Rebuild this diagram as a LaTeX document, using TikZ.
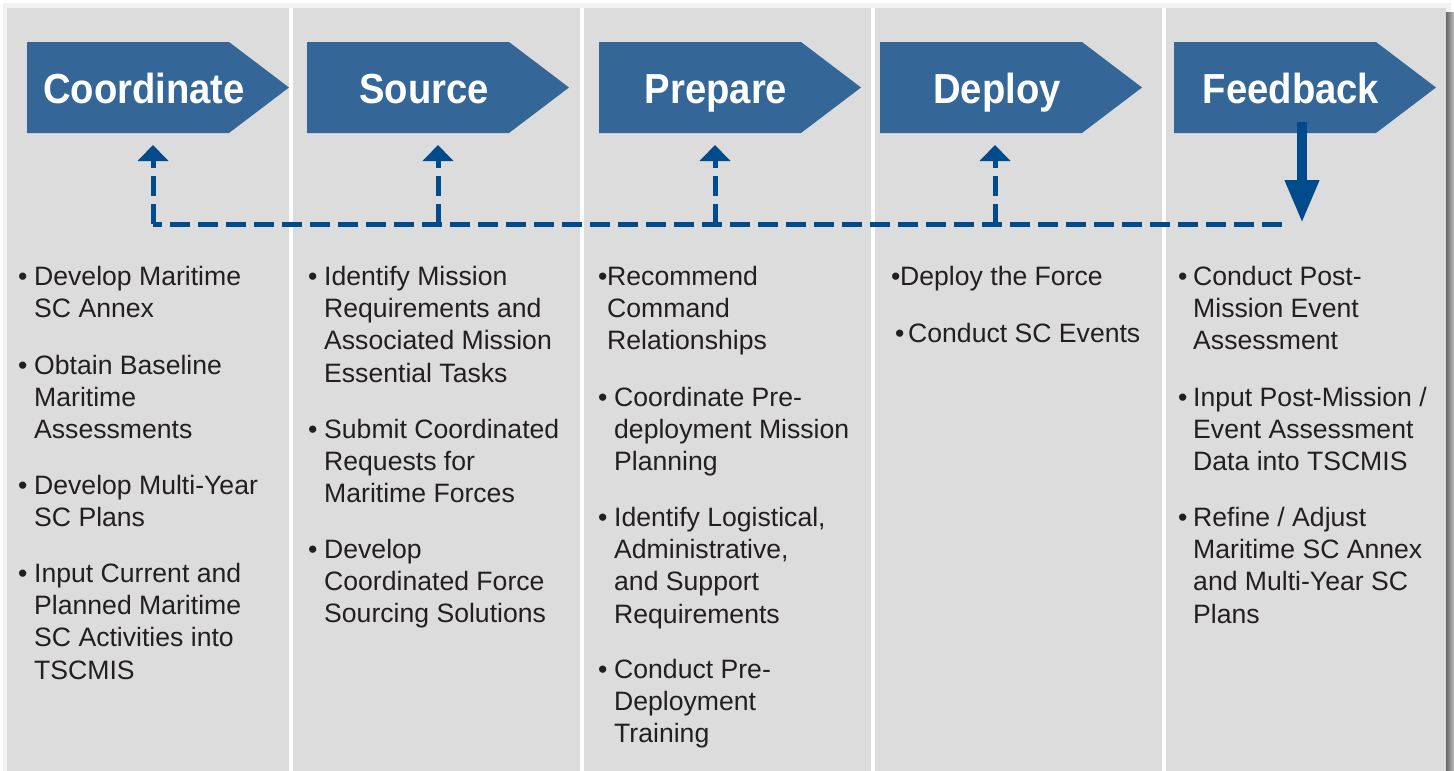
\documentclass[tikz,border=0pt]{standalone}
\usepackage{fontspec}
\setmainfont{Liberation Sans}
\newfontfamily\hdrfont{Liberation Sans}[FakeStretch=0.91]
\usetikzlibrary{arrows.meta}
\definecolor{panel}{HTML}{DCDCDC}
\definecolor{hdrblue}{HTML}{346798}
\definecolor{linkblue}{HTML}{014A8C}
\definecolor{bodytext}{HTML}{231F20}
\tikzset{
  hdrshape/.style={fill=hdrblue},
  hdrtext/.style={text=white, inner sep=0pt, anchor=base, font=\hdrfont\bfseries\fontsize{42}{44}\selectfont},
  bul/.style={text=bodytext, inner sep=0pt, anchor=base west, font=\fontsize{26.6}{32.3}\selectfont},
  body/.style={text=bodytext, inner sep=0pt, anchor=north west, align=left, font=\fontsize{26.6}{32.3}\selectfont},
  dashlink/.style={draw=linkblue, line width=5pt, dash pattern=on 20pt off 8pt, -{Triangle[width=30pt,length=16pt]}},
  dashbus/.style={draw=linkblue, line width=5pt, dash pattern=on 20pt off 8pt},
  solidlink/.style={draw=linkblue, line width=10pt, -{Triangle[width=32pt,length=43pt]}},
  sep/.style={fill=white}
}
\newcommand{\hdr}[3]{%
  \fill[hdrshape] (#2,42) -- (#2+202,42) -- (#2+262,87.5) -- (#2+202,133) -- (#2,133) -- cycle;
  \node[hdrtext] (#1) at (#2+117,103) {#3};
}
\newcommand{\bitem}[5]{%
  \node[bul] (#1b) at (#2,#4+9) {•};
  \node[body] (#1) at (#3,#4-13.6) {\strut #5};
}
\begin{document}
\begin{tikzpicture}[x=1pt,y=-1pt]
\useasboundingbox (0,0) rectangle (1454,771);
\fill[white] (0,0) rectangle (1454,771);
% shadows
\fill[black!5] (3,3) rectangle (1451,771);
\shade[left color=black!60, right color=black!25] (1446,12) rectangle (1454,771);
% panel
\fill[panel] (7,8) rectangle (1446,771);
% separators
\foreach \sx in {290.5,581.5,872.5,1163.5}
  \fill[sep] (\sx-2,8) rectangle (\sx+2,771);
% headers
\hdr{h1}{27}{Coordinate}
\hdr{h2}{307}{Source}
\hdr{h3}{599}{Prepare}
\hdr{h4}{880}{Deploy}
\hdr{h5}{1174}{Feedback}
% connector points
\coordinate (t1) at (153,145);
\coordinate (t2) at (438,145);
\coordinate (t3) at (715,145);
\coordinate (t4) at (995,145);
\coordinate (b1) at (153,224);
\coordinate (b2) at (438,224);
\coordinate (b3) at (715,224);
\coordinate (b4) at (995,224);
\coordinate (bend) at (1282,224);
\coordinate (fs) at (1302,122);
\coordinate (ft) at (1302,223);
\draw[dashbus] (bend) -- (b1);
\draw[dashlink] (b1) -- (t1);
\draw[dashlink] (b2) -- (t2);
\draw[dashlink] (b3) -- (t3);
\draw[dashlink] (b4) -- (t4);
\draw[solidlink] (fs) -- (ft);
% column 1
\bitem{a1}{18}{34}{276}{Develop Maritime\\SC Annex}
\bitem{a2}{18}{34}{365}{Obtain Baseline\\Maritime\\Assessments}
\bitem{a3}{18}{34}{485}{Develop Multi-Year\\SC Plans}
\bitem{a4}{18}{34}{573}{Input Current and\\Planned Maritime\\SC Activities into\\TSCMIS}
% column 2
\bitem{s1}{308}{324}{276}{Identify Mission\\Requirements and\\Associated Mission\\Essential Tasks}
\bitem{s2}{308}{324}{429}{Submit Coordinated\\Requests for\\Maritime Forces}
\bitem{s3}{308}{324}{549}{Develop\\Coordinated Force\\Sourcing Solutions}
% column 3
\bitem{p1}{598}{607}{276}{Recommend\\Command\\Relationships}
\bitem{p2}{598}{614}{397}{Coordinate Pre-\\deployment Mission\\Planning}
\bitem{p3}{598}{614}{517}{Identify Logistical,\\Administrative,\\and Support\\Requirements}
\bitem{p4}{598}{614}{669}{Conduct Pre-\\Deployment\\Training}
% column 4
\bitem{d1}{891}{900}{276}{Deploy the Force}
\bitem{d2}{895}{908}{333}{Conduct SC Events}
% column 5
\bitem{f1}{1178}{1193}{276}{Conduct Post-\\Mission Event\\Assessment}
\bitem{f2}{1178}{1193}{397}{Input Post-Mission /\\Event Assessment\\Data into TSCMIS}
\bitem{f3}{1178}{1193}{517}{Refine / Adjust\\Maritime SC Annex\\and Multi-Year SC\\Plans}
\end{tikzpicture}
\end{document}
